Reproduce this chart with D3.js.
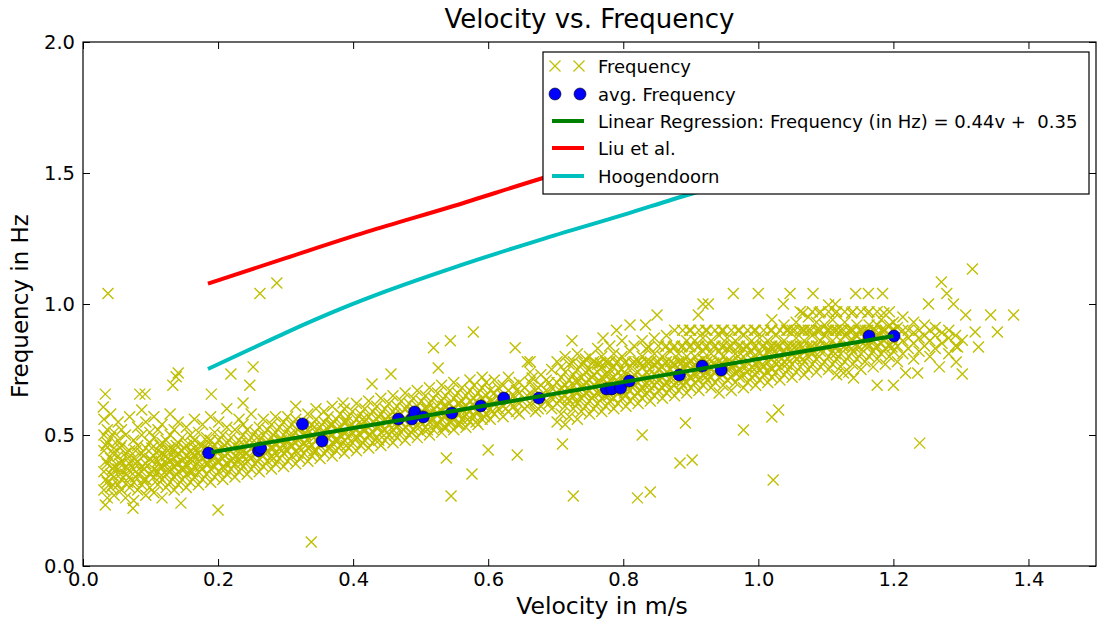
<!DOCTYPE html>
<html>
<head>
<meta charset="utf-8">
<script src="https://cdn.jsdelivr.net/npm/d3@7"></script>
<style>
  html, body { margin: 0; padding: 0; background: #fff; }
  svg { display: block; font-family: "DejaVu Sans", sans-serif; }
</style>
</head>
<body>
<svg id="chart" width="1097" height="622"></svg>
<script>
// ---------------- DATA ----------------
const chartTitle = "Velocity vs. Frequency";
const xLabel = "Velocity in m/s";
const yLabel = "Frequency in Hz";
const xTicks = [0.0, 0.2, 0.4, 0.6, 0.8, 1.0, 1.2, 1.4];
const yTicks = [0.0, 0.5, 1.0, 1.5, 2.0];
const legendLabels = ["Frequency", "avg. Frequency", "Linear Regression: Frequency (in Hz) = 0.44v +  0.35", "Liu et al.", "Hoogendoorn"];

// individual measurements, read column by column: [velocity, [frequencies]]
const freqColumns = [
 [0.031,[0.29,0.36,0.44,0.50,0.56]],
 [0.036,[0.26,0.32,0.39,0.47,0.52]],
 [0.041,[0.30,0.35,0.41,0.49,0.58]],
 [0.046,[0.27,0.34,0.38,0.45,0.51]],
 [0.052,[0.31,0.37,0.42,0.48,0.55]],
 [0.057,[0.29,0.33,0.40,0.46,0.52]],
 [0.063,[0.26,0.35,0.38,0.43,0.50]],
 [0.069,[0.30,0.34,0.39,0.44,0.57]],
 [0.075,[0.25,0.32,0.37,0.41,0.48]],
 [0.081,[0.29,0.35,0.40,0.46,0.53]],
 [0.087,[0.31,0.36,0.38,0.43,0.50]],
 [0.093,[0.27,0.33,0.39,0.45,0.55]],
 [0.099,[0.30,0.35,0.41,0.47,0.51]],
 [0.105,[0.28,0.34,0.37,0.42,0.49,0.57]],
 [0.111,[0.31,0.36,0.40,0.44,0.52]],
 [0.117,[0.26,0.33,0.38,0.43,0.47,0.54]],
 [0.123,[0.30,0.35,0.39,0.42,0.48]],
 [0.129,[0.32,0.36,0.40,0.45,0.50,0.58]],
 [0.135,[0.29,0.34,0.38,0.41,0.44,0.52]],
 [0.141,[0.31,0.36,0.39,0.43,0.47,0.55]],
 [0.147,[0.33,0.37,0.40,0.44,0.49]],
 [0.153,[0.30,0.35,0.39,0.42,0.46,0.53]],
 [0.159,[0.32,0.36,0.41,0.44,0.50]],
 [0.165,[0.34,0.38,0.42,0.45,0.48,0.56]],
 [0.171,[0.31,0.36,0.40,0.43,0.51]],
 [0.177,[0.33,0.37,0.41,0.46,0.54]],
 [0.183,[0.35,0.39,0.42,0.45,0.49]],
 [0.189,[0.32,0.37,0.41,0.44,0.48,0.57]],
 [0.195,[0.34,0.38,0.42,0.46,0.51]],
 [0.201,[0.36,0.40,0.44,0.48,0.55]],
 [0.207,[0.33,0.38,0.41,0.45,0.50]],
 [0.213,[0.35,0.39,0.43,0.47,0.53,0.60]],
 [0.219,[0.37,0.40,0.44,0.49]],
 [0.225,[0.34,0.39,0.42,0.46,0.52]],
 [0.231,[0.36,0.41,0.45,0.48,0.56]],
 [0.237,[0.38,0.42,0.44,0.50,0.54]],
 [0.243,[0.35,0.40,0.43,0.47,0.52]],
 [0.249,[0.37,0.41,0.45,0.49,0.58]],
 [0.255,[0.39,0.43,0.46,0.51]],
 [0.261,[0.36,0.41,0.44,0.48,0.53]],
 [0.267,[0.38,0.42,0.46,0.50,0.56]],
 [0.273,[0.40,0.44,0.47,0.52]],
 [0.279,[0.37,0.42,0.45,0.49,0.54]],
 [0.285,[0.39,0.43,0.47,0.51,0.57]],
 [0.291,[0.41,0.45,0.48,0.53]],
 [0.297,[0.38,0.43,0.46,0.50,0.55]],
 [0.303,[0.40,0.44,0.48,0.52,0.57]],
 [0.309,[0.42,0.46,0.49,0.54]],
 [0.315,[0.39,0.44,0.47,0.51,0.56,0.61]],
 [0.321,[0.41,0.45,0.49,0.53]],
 [0.327,[0.43,0.47,0.50,0.55]],
 [0.333,[0.40,0.45,0.48,0.52,0.58]],
 [0.339,[0.42,0.46,0.50,0.54]],
 [0.345,[0.44,0.48,0.51,0.56,0.60]],
 [0.351,[0.41,0.46,0.49,0.53]],
 [0.357,[0.43,0.47,0.51,0.55,0.59]],
 [0.363,[0.45,0.49,0.52,0.57]],
 [0.369,[0.42,0.47,0.50,0.54,0.61]],
 [0.375,[0.44,0.48,0.52,0.56]],
 [0.381,[0.46,0.50,0.53,0.58]],
 [0.387,[0.43,0.48,0.51,0.55,0.60]],
 [0.393,[0.45,0.49,0.53,0.57]],
 [0.399,[0.47,0.51,0.54,0.59]],
 [0.405,[0.44,0.49,0.52,0.56,0.62]],
 [0.411,[0.46,0.50,0.54,0.58]],
 [0.417,[0.48,0.52,0.55,0.60]],
 [0.423,[0.45,0.50,0.53,0.57,0.63]],
 [0.429,[0.47,0.51,0.55,0.59]],
 [0.435,[0.49,0.53,0.56,0.61]],
 [0.441,[0.46,0.51,0.54,0.58,0.64]],
 [0.447,[0.48,0.52,0.56,0.60]],
 [0.453,[0.50,0.54,0.57,0.62]],
 [0.459,[0.47,0.52,0.55,0.59,0.65]],
 [0.465,[0.49,0.53,0.57,0.61]],
 [0.471,[0.51,0.55,0.58,0.63]],
 [0.477,[0.48,0.53,0.56,0.60,0.66]],
 [0.483,[0.50,0.54,0.58,0.62]],
 [0.489,[0.52,0.56,0.59,0.64]],
 [0.495,[0.49,0.54,0.57,0.61,0.67]],
 [0.501,[0.51,0.55,0.59,0.63]],
 [0.507,[0.53,0.57,0.60,0.65]],
 [0.513,[0.50,0.55,0.58,0.62,0.68]],
 [0.519,[0.52,0.56,0.60,0.64]],
 [0.525,[0.54,0.58,0.61,0.66]],
 [0.531,[0.51,0.56,0.59,0.63,0.69]],
 [0.537,[0.53,0.57,0.61,0.65]],
 [0.543,[0.55,0.59,0.62,0.67]],
 [0.549,[0.52,0.57,0.60,0.64,0.70]],
 [0.555,[0.54,0.58,0.62,0.66]],
 [0.561,[0.56,0.60,0.63,0.68]],
 [0.567,[0.53,0.58,0.61,0.65]],
 [0.573,[0.55,0.59,0.63,0.67,0.71]],
 [0.579,[0.57,0.61,0.64,0.69]],
 [0.585,[0.54,0.59,0.62,0.66]],
 [0.591,[0.56,0.60,0.64,0.68,0.72]],
 [0.597,[0.58,0.62,0.65,0.70]],
 [0.603,[0.56,0.60,0.63,0.67]],
 [0.609,[0.58,0.62,0.66,0.71]],
 [0.615,[0.60,0.64,0.68]],
 [0.622,[0.57,0.61,0.65,0.69]],
 [0.630,[0.59,0.63,0.67,0.72]],
 [0.638,[0.61,0.65,0.69]],
 [0.646,[0.58,0.62,0.66,0.70]],
 [0.654,[0.60,0.64,0.68]],
 [0.662,[0.62,0.66,0.70,0.74]],
 [0.670,[0.59,0.63,0.67]],
 [0.678,[0.61,0.65,0.69,0.73]],
 [0.686,[0.63,0.67,0.71]],
 [0.694,[0.60,0.64,0.68,0.75]],
 [0.702,[0.55,0.62,0.66,0.70,0.78]],
 [0.708,[0.58,0.64,0.68,0.72,0.76]],
 [0.714,[0.54,0.61,0.65,0.69,0.74,0.80]],
 [0.720,[0.57,0.63,0.67,0.71,0.77]],
 [0.726,[0.60,0.65,0.69,0.73,0.78]],
 [0.732,[0.56,0.62,0.66,0.70,0.75,0.81]],
 [0.738,[0.59,0.64,0.68,0.72,0.77]],
 [0.744,[0.61,0.66,0.70,0.74,0.79]],
 [0.750,[0.58,0.63,0.67,0.71,0.75,0.80]],
 [0.756,[0.60,0.65,0.69,0.73,0.78]],
 [0.762,[0.62,0.66,0.70,0.74,0.77,0.83]],
 [0.768,[0.59,0.64,0.68,0.72,0.76,0.80]],
 [0.774,[0.61,0.65,0.69,0.73,0.78]],
 [0.780,[0.63,0.67,0.71,0.75,0.78,0.84]],
 [0.786,[0.60,0.64,0.68,0.72,0.76,0.81]],
 [0.792,[0.62,0.66,0.70,0.74,0.78]],
 [0.798,[0.64,0.68,0.72,0.75,0.80,0.86]],
 [0.804,[0.61,0.65,0.69,0.73,0.78]],
 [0.810,[0.63,0.67,0.71,0.76,0.82]],
 [0.816,[0.65,0.69,0.73,0.78,0.84]],
 [0.822,[0.62,0.66,0.70,0.74,0.78]],
 [0.828,[0.64,0.68,0.72,0.76,0.80,0.86]],
 [0.834,[0.66,0.70,0.74,0.78,0.83]],
 [0.840,[0.63,0.67,0.71,0.75,0.78]],
 [0.846,[0.65,0.69,0.73,0.77,0.81,0.87]],
 [0.852,[0.67,0.71,0.75,0.78,0.84]],
 [0.858,[0.64,0.68,0.72,0.76,0.80]],
 [0.864,[0.66,0.70,0.74,0.78,0.84,0.88]],
 [0.870,[0.68,0.72,0.75,0.78,0.82]],
 [0.876,[0.65,0.69,0.73,0.77,0.84,0.90]],
 [0.882,[0.67,0.71,0.74,0.78,0.81]],
 [0.888,[0.69,0.72,0.76,0.78,0.84,0.90]],
 [0.894,[0.66,0.70,0.74,0.77,0.80,0.86]],
 [0.900,[0.68,0.72,0.75,0.78,0.84,0.90]],
 [0.906,[0.70,0.73,0.77,0.80,0.86]],
 [0.912,[0.67,0.71,0.75,0.78,0.84,0.90]],
 [0.918,[0.69,0.73,0.76,0.79,0.82,0.87]],
 [0.924,[0.71,0.74,0.78,0.84,0.90]],
 [0.930,[0.68,0.72,0.75,0.78,0.81,0.86]],
 [0.936,[0.70,0.74,0.77,0.84,0.90]],
 [0.942,[0.66,0.72,0.76,0.78,0.82,0.88]],
 [0.948,[0.69,0.73,0.77,0.80,0.84,0.90]],
 [0.954,[0.71,0.75,0.78,0.83,0.87]],
 [0.960,[0.67,0.72,0.76,0.78,0.84,0.90]],
 [0.966,[0.70,0.74,0.77,0.81,0.86]],
 [0.972,[0.72,0.75,0.78,0.84,0.90]],
 [0.978,[0.68,0.73,0.76,0.80,0.83,0.88]],
 [0.984,[0.70,0.74,0.78,0.84,0.90]],
 [0.990,[0.72,0.76,0.79,0.82,0.86]],
 [0.996,[0.69,0.73,0.77,0.84,0.90]],
 [1.002,[0.71,0.75,0.78,0.81,0.87]],
 [1.008,[0.73,0.76,0.80,0.84,0.90]],
 [1.014,[0.70,0.74,0.78,0.82,0.86]],
 [1.020,[0.72,0.75,0.79,0.84,0.90,0.94]],
 [1.026,[0.74,0.77,0.81,0.84,0.88]],
 [1.032,[0.71,0.76,0.80,0.84,0.90]],
 [1.038,[0.73,0.78,0.82,0.86,0.92]],
 [1.044,[0.75,0.79,0.84,0.90]],
 [1.050,[0.72,0.77,0.81,0.84,0.90]],
 [1.056,[0.74,0.79,0.84,0.87,0.93]],
 [1.062,[0.76,0.80,0.84,0.90,0.97]],
 [1.068,[0.73,0.78,0.82,0.86,0.90]],
 [1.074,[0.75,0.80,0.84,0.90,0.95]],
 [1.080,[0.77,0.81,0.84,0.88,0.97]],
 [1.086,[0.74,0.79,0.84,0.90,0.93]],
 [1.092,[0.76,0.82,0.86,0.90,0.97]],
 [1.098,[0.78,0.84,0.88,0.92]],
 [1.104,[0.75,0.80,0.84,0.90,0.97]],
 [1.110,[0.77,0.82,0.86,0.90,0.94]],
 [1.116,[0.73,0.79,0.84,0.90,0.97]],
 [1.122,[0.76,0.81,0.86,0.90]],
 [1.128,[0.78,0.84,0.88,0.93,0.97]],
 [1.134,[0.74,0.80,0.84,0.90]],
 [1.140,[0.77,0.82,0.86,0.90,0.97]],
 [1.146,[0.79,0.84,0.88,0.92]],
 [1.152,[0.75,0.81,0.86,0.90,0.97]],
 [1.158,[0.78,0.84,0.87,0.90]],
 [1.164,[0.80,0.84,0.88,0.92,0.97]],
 [1.170,[0.76,0.82,0.86,0.90]],
 [1.176,[0.79,0.84,0.88,0.92,0.97]],
 [1.182,[0.81,0.85,0.90,0.94]],
 [1.188,[0.77,0.83,0.87,0.90]],
 [1.194,[0.80,0.84,0.88,0.92,0.97]],
 [1.200,[0.82,0.86,0.90,0.93]],
 [1.206,[0.78,0.84,0.88,0.91]],
 [1.214,[0.81,0.86,0.90,0.95]],
 [1.222,[0.83,0.87,0.90]],
 [1.230,[0.79,0.85,0.89,0.93]],
 [1.238,[0.82,0.87,0.90]],
 [1.246,[0.84,0.88,0.92]],
 [1.254,[0.80,0.86,0.90]],
 [1.262,[0.83,0.88,0.91]],
 [1.272,[0.85,0.89]],
 [1.282,[0.81,0.87,0.90]],
 [1.292,[0.84,0.88]]
];

// densest core of the cloud, read in between the columns above
const freqCoreColumns = [
 [0.034,[0.33,0.40,0.46]],[0.044,[0.31,0.37,0.43]],[0.055,[0.35,0.39,0.45]],
 [0.066,[0.32,0.37,0.41]],[0.078,[0.34,0.39,0.44]],[0.090,[0.33,0.37,0.42]],
 [0.102,[0.36,0.40,0.45]],[0.114,[0.34,0.38,0.42,0.46]],[0.126,[0.37,0.41,0.44]],
 [0.138,[0.35,0.39,0.42,0.46]],[0.150,[0.37,0.41,0.45]],[0.162,[0.36,0.40,0.43,0.47]],
 [0.174,[0.38,0.42,0.46]],[0.186,[0.39,0.43,0.47]],[0.198,[0.40,0.44]],
 [0.210,[0.37,0.42,0.46]],[0.222,[0.41,0.45]],[0.234,[0.39,0.43,0.47]],
 [0.246,[0.42,0.46]],[0.258,[0.40,0.44,0.49]],[0.270,[0.43,0.47]],
 [0.282,[0.41,0.45,0.50]],[0.294,[0.44,0.48]],[0.306,[0.46,0.50]],
 [0.318,[0.43,0.48,0.52]],[0.330,[0.46,0.50]],[0.342,[0.44,0.49,0.53]],
 [0.354,[0.47,0.51]],[0.366,[0.45,0.50,0.54]],[0.378,[0.48,0.52]],
 [0.390,[0.46,0.51,0.55]],[0.402,[0.49,0.53]],[0.414,[0.47,0.52,0.56]],
 [0.426,[0.50,0.54]],[0.438,[0.48,0.53,0.57]],[0.450,[0.51,0.55]],
 [0.462,[0.50,0.54,0.58]],[0.474,[0.52,0.56]],[0.486,[0.51,0.55,0.59]],
 [0.498,[0.53,0.57]],[0.510,[0.52,0.56,0.60]],[0.522,[0.54,0.58]],
 [0.534,[0.53,0.57,0.61]],[0.546,[0.55,0.59]],[0.558,[0.54,0.58,0.62]],
 [0.570,[0.56,0.60]],[0.582,[0.55,0.59,0.63]],[0.594,[0.57,0.61]],
 [0.606,[0.59,0.63]],[0.626,[0.60,0.64]],[0.642,[0.59,0.63,0.67]],
 [0.658,[0.61,0.65]],[0.674,[0.60,0.64,0.68]],[0.690,[0.62,0.66,0.70]],
 [0.706,[0.63,0.67]],[0.718,[0.64,0.68]],[0.730,[0.63,0.67,0.71]],
 [0.742,[0.65,0.69,0.775]],[0.754,[0.64,0.68,0.72,0.775]],[0.766,[0.66,0.70,0.775]],
 [0.778,[0.65,0.69,0.73,0.775]],[0.790,[0.67,0.71,0.775]],[0.802,[0.66,0.70,0.74,0.775]],
 [0.814,[0.68,0.72,0.775]],[0.826,[0.67,0.71,0.775]],[0.838,[0.69,0.73,0.775,0.836]],
 [0.850,[0.70,0.775]],[0.862,[0.69,0.73,0.775,0.836]],[0.874,[0.71,0.775,0.836]],
 [0.886,[0.70,0.74,0.775,0.836]],[0.898,[0.72,0.775,0.836,0.90]],[0.910,[0.73,0.775,0.836]],
 [0.922,[0.72,0.775,0.836,0.90]],[0.934,[0.74,0.775,0.836]],[0.946,[0.73,0.775,0.836,0.90]],
 [0.958,[0.75,0.775,0.836]],[0.970,[0.74,0.80,0.836,0.90]],[0.982,[0.76,0.836]],
 [0.994,[0.75,0.80,0.836,0.90]],[1.006,[0.77,0.836]],[1.018,[0.76,0.82,0.836,0.90]],
 [1.030,[0.78,0.836]],[1.042,[0.77,0.836,0.90]],[1.054,[0.80,0.836,0.90]],
 [1.066,[0.79,0.836,0.90,0.966]],[1.078,[0.82,0.836,0.90]],[1.090,[0.80,0.836,0.90,0.966]],
 [1.102,[0.836,0.90]],[1.114,[0.81,0.836,0.90,0.966]],[1.126,[0.836,0.90]],
 [1.138,[0.83,0.866,0.90,0.966]],[1.150,[0.836,0.90]],[1.162,[0.85,0.90,0.966]],
 [1.174,[0.836,0.90]],[1.186,[0.86,0.90,0.966]],[1.198,[0.836,0.90]]
];

// isolated measurements read one by one: [velocity, frequency]
const freqOutliers = [
 [0.037,1.04],[0.262,1.04],[0.287,1.08],[0.141,0.737],[0.138,0.722],[0.133,0.69],
 [0.219,0.733],[0.252,0.76],[0.247,0.69],[0.033,0.656],[0.084,0.656],[0.092,0.656],
 [0.19,0.656],[0.087,0.595],[0.03,0.607],[0.237,0.622],[0.2,0.214],[0.145,0.24],
 [0.338,0.092],[0.033,0.233],[0.074,0.22],
 [0.578,0.893],[0.544,0.86],[0.519,0.833],[0.64,0.833],[0.724,0.86],[0.456,0.733],
 [0.428,0.695],[0.526,0.756],[0.658,0.78],[0.662,0.78],[0.665,0.718],[0.385,0.622],
 [0.538,0.412],[0.576,0.351],[0.545,0.267],[0.726,0.267],[0.71,0.466],[0.643,0.424],[0.60,0.443],
 [0.79,0.90],[0.77,0.87],[0.81,0.92],
 [0.963,1.04],[1.0,1.04],[1.047,1.04],[1.081,1.04],[0.918,1.0],[0.926,1.0],[0.911,0.958],
 [1.037,1.0],[1.104,0.996],[0.85,0.958],[0.833,0.92],[0.892,0.546],[0.978,0.519],
 [1.02,0.569],[1.03,0.595],[0.884,0.393],[0.902,0.405],[1.022,0.328],[0.821,0.26],
 [0.84,0.282],[0.828,0.5],
 [1.317,1.134],[1.271,1.084],[1.279,1.04],[1.289,1.0],[1.252,1.0],[1.344,0.958],
 [1.378,0.958],[1.307,0.958],[1.321,0.893],[1.354,0.893],[1.326,0.836],[1.295,0.836],
 [1.302,0.862],[1.293,0.779],[1.268,0.76],[1.302,0.733],[1.239,0.469],[1.176,0.69],
 [1.2,0.69],[1.141,0.718],[1.126,0.737],[1.144,1.04],[1.163,1.04],[1.184,1.04],
 [1.114,1.0],[1.236,0.737],[1.218,0.737]
];

// averaged frequency per velocity bin
const avgV = [0.186,0.260,0.263,0.325,0.354,0.467,0.487,0.491,0.504,0.546,0.589,0.623,0.675,0.775,0.783,0.796,0.809,0.883,0.917,0.945,1.164,1.201];
const avgF = [0.431,0.440,0.450,0.542,0.477,0.561,0.561,0.588,0.569,0.584,0.611,0.641,0.641,0.676,0.676,0.679,0.706,0.729,0.763,0.748,0.878,0.878];

// regression line endpoints (0.44v + 0.35)
const regV = [0.19, 1.2];
const regF = [0.434, 0.878];

// Liu et al. curve
const liuV = [0.185, 0.30, 0.42, 0.55, 0.68, 0.80, 1.0, 1.2];
const liuF = [1.078, 1.175, 1.275, 1.375, 1.48, 1.57, 1.72, 1.87];

// Hoogendoorn curve
const hooV = [0.185, 0.25, 0.30, 0.385, 0.45, 0.55, 0.677, 0.80, 0.90, 1.0, 1.2];
const hooF = [0.752, 0.83, 0.89, 0.985, 1.05, 1.14, 1.245, 1.34, 1.42, 1.49, 1.62];

// ---------------- DRAW ----------------
const svg = d3.select("#chart");
const L = 83, R = 1096, T = 42, B = 566;
const x = d3.scaleLinear().domain([0, 1.5]).range([L, R]);
const y = d3.scaleLinear().domain([0, 2]).range([B, T]);

const colY = "#bfbf00", colB = "#0000ff", colG = "#008000", colR = "#ff0000", colC = "#00bfbf";

const toPairs = cols => cols.flatMap(([v, fs]) => fs.map(f => [v, f]));
const freqPoints = toPairs(freqColumns).concat(toPairs(freqCoreColumns), freqOutliers);

const crossPath = "M-5.5,-5.5L5.5,5.5M-5.5,5.5L5.5,-5.5";

// scatter
svg.append("g").selectAll("path").data(freqPoints).join("path")
  .attr("d", crossPath)
  .attr("transform", d => `translate(${x(d[0])},${y(d[1])})`)
  .attr("stroke", colY).attr("stroke-width", 1.4).attr("fill", "none");

// average points
svg.append("g").selectAll("circle").data(avgV.map((v, i) => [v, avgF[i]])).join("circle")
  .attr("cx", d => x(d[0])).attr("cy", d => y(d[1])).attr("r", 6)
  .attr("fill", colB).attr("stroke", "#000").attr("stroke-width", 0.6);

const line = d3.line().x(d => x(d[0])).y(d => y(d[1]));
const curve = d3.line().x(d => x(d[0])).y(d => y(d[1])).curve(d3.curveMonotoneX);

svg.append("path").datum(regV.map((v, i) => [v, regF[i]])).attr("d", line)
  .attr("stroke", colG).attr("stroke-width", 4).attr("fill", "none");
svg.append("path").datum(liuV.map((v, i) => [v, liuF[i]])).attr("d", curve)
  .attr("stroke", colR).attr("stroke-width", 4).attr("fill", "none");
svg.append("path").datum(hooV.map((v, i) => [v, hooF[i]])).attr("d", curve)
  .attr("stroke", colC).attr("stroke-width", 4).attr("fill", "none");

// axes (inward ticks on all sides)
const fmt = d3.format(".1f");
const axB = svg.append("g").attr("transform", `translate(0,${B})`)
  .call(d3.axisBottom(x).tickValues(xTicks).tickFormat(fmt).tickSizeInner(-7).tickSizeOuter(0).tickPadding(6));
const axT = svg.append("g").attr("transform", `translate(0,${T})`)
  .call(d3.axisTop(x).tickValues(xTicks).tickFormat("").tickSizeInner(-7).tickSizeOuter(0));
const axL = svg.append("g").attr("transform", `translate(${L},0)`)
  .call(d3.axisLeft(y).tickValues(yTicks).tickFormat(fmt).tickSizeInner(-7).tickSizeOuter(0).tickPadding(8));
const axR = svg.append("g").attr("transform", `translate(${R},0)`)
  .call(d3.axisRight(y).tickValues(yTicks).tickFormat("").tickSizeInner(-7).tickSizeOuter(0));
[axB, axT, axL, axR].forEach(a => {
  a.select(".domain").remove();
  a.selectAll("line").attr("stroke", "#000").attr("stroke-width", 1);
  a.selectAll("text").attr("font-family", "DejaVu Sans").attr("font-size", 19.5).attr("fill", "#000");
});

svg.append("rect").attr("x", L).attr("y", T).attr("width", R - L).attr("height", B - T)
  .attr("fill", "none").attr("stroke", "#000").attr("stroke-width", 1.2);

// titles
svg.append("text").attr("x", (L + R) / 2).attr("y", 28).attr("text-anchor", "middle")
  .attr("font-size", 26).attr("fill", "#000").text(chartTitle);
svg.append("text").attr("x", 602).attr("y", 614).attr("text-anchor", "middle")
  .attr("font-size", 23.5).attr("fill", "#000").text(xLabel);
svg.append("text").attr("transform", `translate(28,306) rotate(-90)`).attr("text-anchor", "middle")
  .attr("font-size", 23).attr("fill", "#000").text(yLabel);

// legend
const lg = svg.append("g");
lg.append("rect").attr("x", 543).attr("y", 52).attr("width", 546).attr("height", 142)
  .attr("fill", "#fff").attr("stroke", "#000").attr("stroke-width", 1.2);
const rowY = [66, 94, 121, 148, 176];
[555, 579].forEach(cx => lg.append("path").attr("d", crossPath)
  .attr("transform", `translate(${cx},${rowY[0]})`).attr("stroke", colY).attr("stroke-width", 1.2).attr("fill", "none"));
[555, 580].forEach(cx => lg.append("circle").attr("cx", cx).attr("cy", rowY[1]).attr("r", 6)
  .attr("fill", colB).attr("stroke", "#000").attr("stroke-width", 0.6));
[colG, colR, colC].forEach((c, i) => lg.append("line")
  .attr("x1", 552).attr("x2", 584).attr("y1", rowY[i + 2]).attr("y2", rowY[i + 2])
  .attr("stroke", c).attr("stroke-width", 4));
legendLabels.forEach((t, i) => lg.append("text").attr("x", 598).attr("y", rowY[i] + 6.5)
  .attr("font-size", 18).attr("fill", "#000").style("white-space", "pre").text(t));
</script>
</body>
</html>
